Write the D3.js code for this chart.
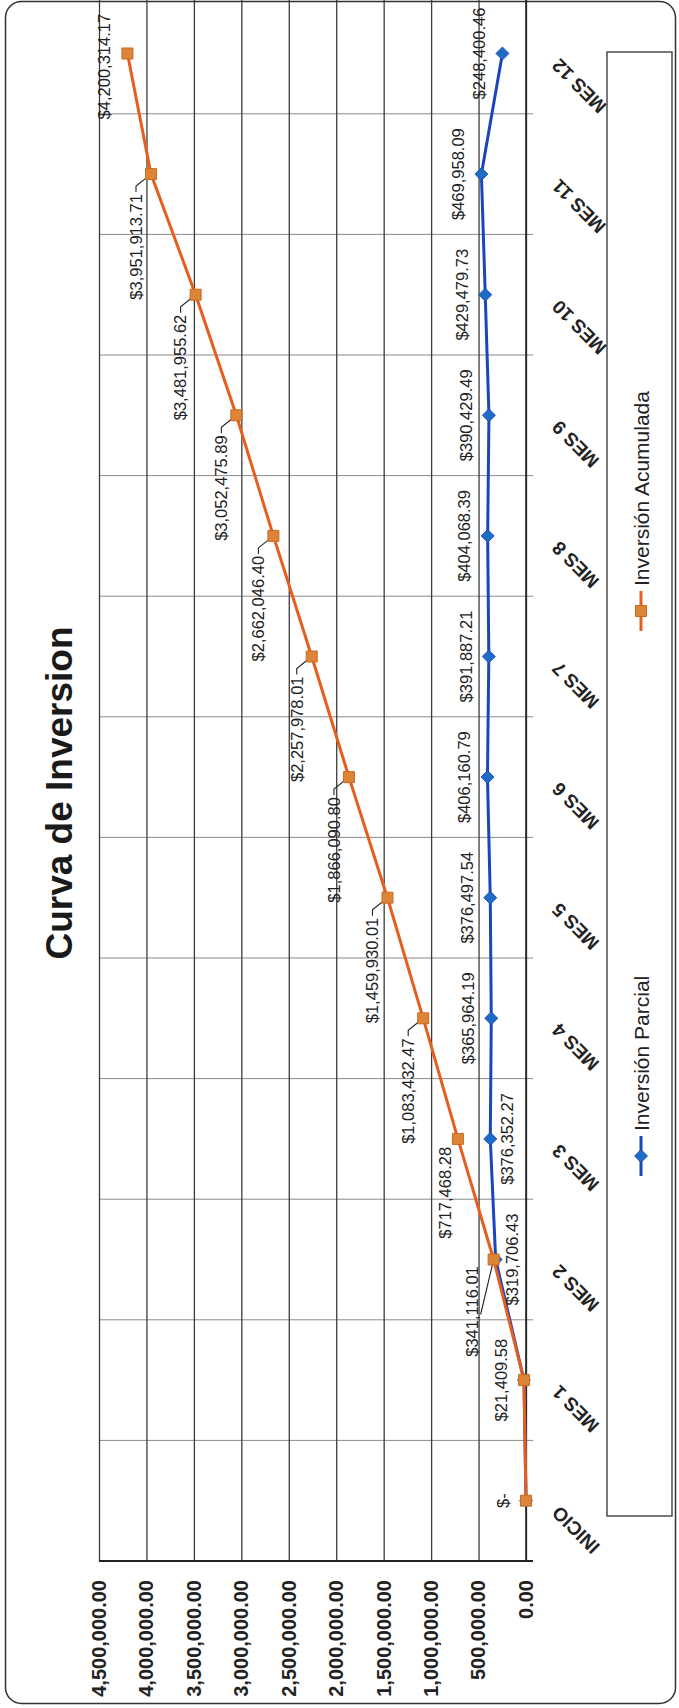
<!DOCTYPE html>
<html><head><meta charset="utf-8">
<script src="https://cdn.jsdelivr.net/npm/d3@7"></script>
<style>
body{margin:0;background:#fff}
svg{display:block}
text{font-family:"Liberation Sans",Arial,sans-serif}
</style>
</head><body>
<svg id="c" width="679" height="1708"></svg>
<script>
// ---------- data ----------
const title = "Curva de Inversion";
const categories = ["INICIO","MES 1","MES 2","MES 3","MES 4","MES 5","MES 6","MES 7","MES 8","MES 9","MES 10","MES 11","MES 12"];
const seriesNames = ["Inversión Parcial","Inversión Acumulada"];
const parcial = [0, 21409.58, 319706.43, 376352.27, 365964.19, 376497.54, 406160.79, 391887.21, 404068.39, 390429.49, 429479.73, 469958.09, 248400.46];
const acumulada = [0, 21409.58, 341116.01, 717468.28, 1083432.47, 1459930.01, 1866090.80, 2257978.01, 2662046.40, 3052475.89, 3481955.62, 3951913.71, 4200314.17];
const valueTicks = [0, 500000, 1000000, 1500000, 2000000, 2500000, 3000000, 3500000, 4000000, 4500000];

// ---------- label placement config (style, not data) ----------
const blueBelow = ["MES 2","MES 3"];
const orangePlacement = ["above","above","leaderBelow","left","leader","leader","leader","leader","leader","leader","leader","leader","above"];

// ---------- setup ----------
const W = 679, H = 1708;
const svg = d3.select("#c");
svg.append("rect").attr("width", W).attr("height", H).attr("fill", "#fff");
svg.append("rect").attr("x", 5.5).attr("y", 1.5).attr("width", 670).attr("height", 1702)
  .attr("rx", 16).attr("fill", "none").attr("stroke", "#333").attr("stroke-width", 1.5);

// chart drawn in landscape coordinates, then rotated
const g = svg.append("g").attr("transform", `translate(0,${H}) rotate(-90)`);
const plotL = 147, band = 120.6, plotR = plotL + band * categories.length, plotT = 99, plotB = 526;
const x = d3.scaleBand().domain(categories).range([plotL, plotR]).padding(0);
const y = d3.scaleLinear().domain([0, 4500000]).range([plotB, plotT]);
const cx = c => x(c) + x.bandwidth() / 2;
const fmtMoney = v => v === 0 ? "$-" : "$" + d3.format(",.2f")(v);

const ORANGE_LINE = "#E65E1E", ORANGE_MK = "#DC8537", ORANGE_MK_ST = "#C86A26";
const BLUE_LINE = "#1B46BB", BLUE_MK = "#1F6CC6";

// title
g.append("text").attr("x", 915).attr("y", 72).attr("text-anchor", "middle")
  .attr("font-size", 37).attr("font-weight", "bold").attr("fill", "#1a1a1a").text(title);

// category boundary lines (+ outside ticks)
const bounds = categories.map(c => x(c)).concat([plotR]);
g.append("g").selectAll("line").data(bounds).join("line")
  .attr("x1", d => d).attr("x2", d => d).attr("y1", plotT).attr("y2", plotB + 7)
  .attr("stroke", "#8a8a8a").attr("stroke-width", 1);

// value gridlines & labels
const ya = g.append("g").attr("transform", `translate(${plotL},0)`)
  .call(d3.axisLeft(y).tickValues(valueTicks).tickFormat(d3.format(",.2f"))
    .tickSize(-(plotR - plotL)).tickPadding(19));
ya.select(".domain").remove();
ya.selectAll(".tick line").attr("stroke", "#3c3c3c").attr("stroke-width", 1.3);
ya.selectAll(".tick text").attr("font-size", 20).attr("font-weight", "bold").attr("fill", "#222");

// axis lines
g.append("line").attr("x1", plotL).attr("x2", plotR).attr("y1", y(0)).attr("y2", y(0))
  .attr("stroke", "#222").attr("stroke-width", 1.6);
g.append("line").attr("x1", plotL).attr("x2", plotL).attr("y1", plotT).attr("y2", plotB + 7)
  .attr("stroke", "#222").attr("stroke-width", 2.2);

// category labels
g.append("g").selectAll("text").data(categories).join("text")
  .attr("transform", c => `translate(${cx(c) - 4},560) rotate(-45)`)
  .attr("text-anchor", "end").attr("font-size", 19).attr("font-weight", "bold").attr("fill", "#222")
  .text(c => c);

const line = d3.line().x((d, i) => cx(categories[i])).y(d => y(d));

// blue series
g.append("path").datum(parcial).attr("d", line).attr("fill", "none")
  .attr("stroke", BLUE_LINE).attr("stroke-width", 3);
const diamond = d3.symbol().type(d3.symbolSquare).size(85);
g.append("g").selectAll("path").data(parcial).join("path")
  .attr("d", diamond)
  .attr("transform", (d, i) => `translate(${cx(categories[i])},${y(d)}) rotate(45)`)
  .attr("fill", BLUE_MK).attr("stroke", BLUE_LINE).attr("stroke-width", 0.8);

// orange series
g.append("path").datum(acumulada).attr("d", line).attr("fill", "none")
  .attr("stroke", ORANGE_LINE).attr("stroke-width", 3);

const LBL = 16.5, ABOVE = 23;
const orangeLabels = acumulada.map((v, i) => {
  const c = categories[i], px = cx(c), py = y(v), t = fmtMoney(v), p = orangePlacement[i];
  let o = {t, anchor: "middle", lx: px, ly: py - ABOVE, leader: null};
  if (p === "above") {
    const w = t.length * LBL * 0.5;
    if (px + w / 2 > 1695) o.lx = 1695 - w / 2;
  } else if (p === "left") {
    o.anchor = "end"; o.lx = px - 8; o.ly = py - 13;
  } else if (p === "leader") {
    o.anchor = "end"; o.lx = px - 20; o.ly = py - 15;
    o.leader = [[o.lx + 2, o.ly], [o.lx + 8, o.ly], [px, py]];
  } else if (p === "leaderBelow") {
    o.lx = px - 52; o.ly = py - 21;
    o.leader = [[o.lx - 3, o.ly + 8], [px, py]];
  }
  return o;
});
g.append("g").selectAll("path").data(orangeLabels.filter(d => d.leader)).join("path")
  .attr("d", d => d3.line()(d.leader)).attr("fill", "none").attr("stroke", "#222").attr("stroke-width", 1.1);

const square = d3.symbol().type(d3.symbolSquare).size(121);
g.append("g").selectAll("path").data(acumulada).join("path")
  .attr("d", square)
  .attr("transform", (d, i) => `translate(${cx(categories[i])},${y(d)})`)
  .attr("fill", ORANGE_MK).attr("stroke", ORANGE_MK_ST).attr("stroke-width", 1);

// blue labels (where identical to the orange label, they coincide exactly)
g.append("g").selectAll("text").data(parcial).join("text")
  .attr("x", (d, i) => cx(categories[i]))
  .attr("y", (d, i) => blueBelow.includes(categories[i]) ? y(d) + 17 : y(d) - ABOVE)
  .attr("dy", "0.35em").attr("text-anchor", "middle")
  .attr("font-size", LBL).attr("fill", "#222")
  .attr("opacity", (d, i) => d === acumulada[i] ? 0 : 1)
  .text(d => fmtMoney(d));

// orange labels
g.append("g").selectAll("text").data(orangeLabels).join("text")
  .attr("x", d => d.lx).attr("y", d => d.ly).attr("dy", "0.35em")
  .attr("text-anchor", d => d.anchor)
  .attr("font-size", LBL).attr("fill", "#222").text(d => d.t);

// legend
const lg = g.append("g");
lg.append("rect").attr("x", 192).attr("y", 607).attr("width", 1464).attr("height", 65)
  .attr("fill", "#fff").attr("stroke", "#333").attr("stroke-width", 1.3);
const legendItems = [
  {name: seriesNames[0], cxp: 552, color: BLUE_LINE, sym: "diamond"},
  {name: seriesNames[1], cxp: 1097, color: ORANGE_LINE, sym: "square"}
];
legendItems.forEach(it => {
  lg.append("line").attr("x1", it.cxp - 20).attr("x2", it.cxp + 20).attr("y1", 641).attr("y2", 641)
    .attr("stroke", it.color).attr("stroke-width", 3);
  if (it.sym === "diamond") {
    lg.append("path").attr("d", diamond).attr("transform", `translate(${it.cxp},641) rotate(45)`)
      .attr("fill", BLUE_MK).attr("stroke", BLUE_LINE).attr("stroke-width", 0.8);
  } else {
    lg.append("path").attr("d", square).attr("transform", `translate(${it.cxp},641)`)
      .attr("fill", ORANGE_MK).attr("stroke", ORANGE_MK_ST);
  }
  lg.append("text").attr("x", it.cxp + 25).attr("y", 649).attr("font-size", 21).attr("fill", "#222").text(it.name);
});
</script>
</body></html>
